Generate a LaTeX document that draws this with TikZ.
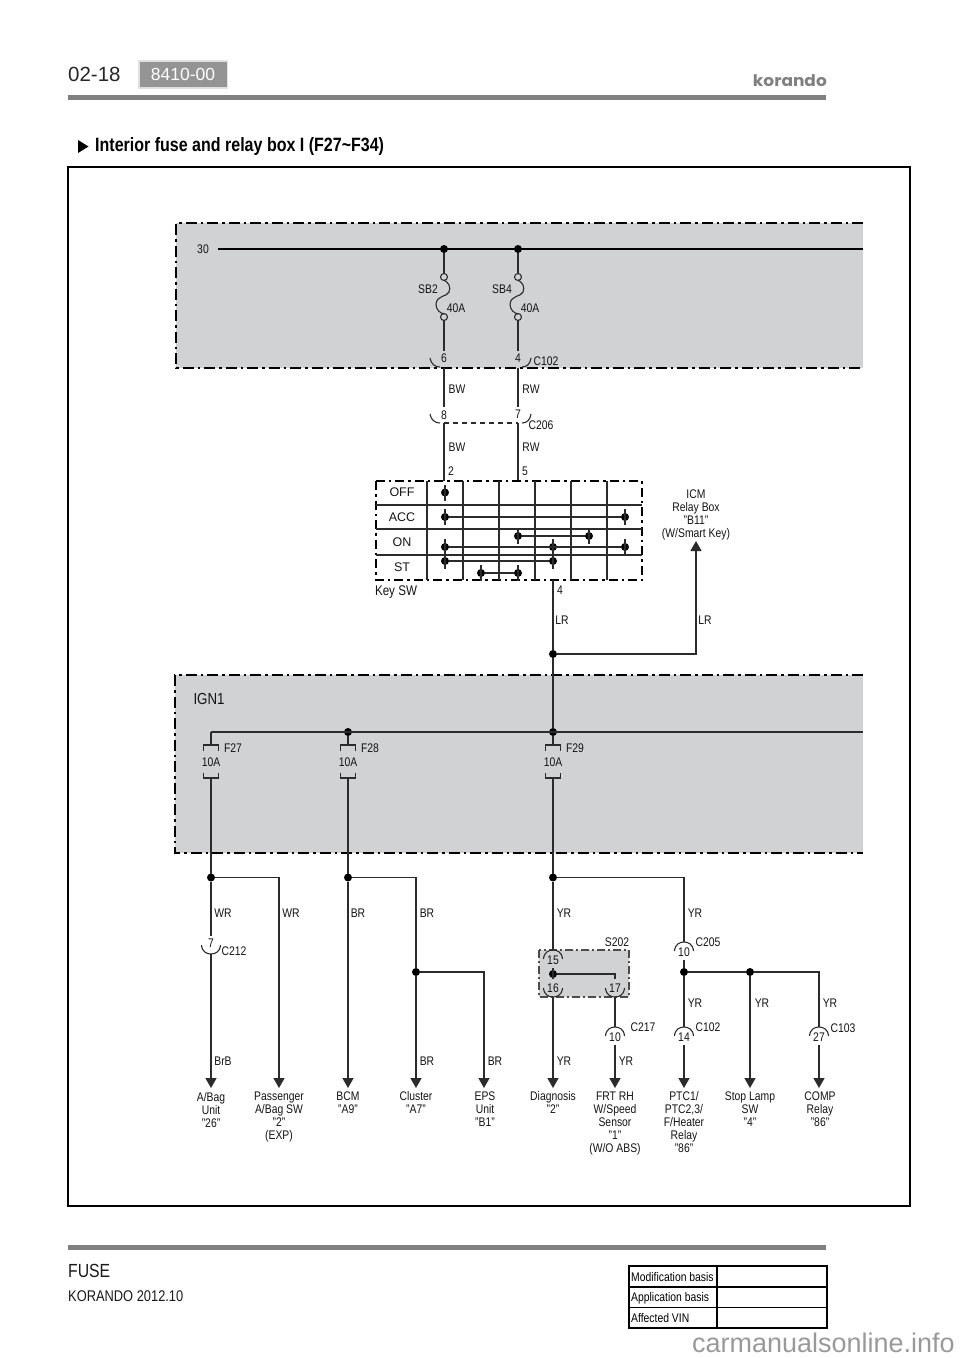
\documentclass[tikz,border=0pt]{standalone}
\usepackage{fontspec}
\setmainfont[FakeStretch=0.83]{Liberation Sans}
\newfontfamily\plainf{Liberation Sans}
\newfontfamily\logof[FakeStretch=1.06]{Poppins}
\usetikzlibrary{arrows.meta}
\definecolor{panel}{HTML}{D1D2D4}
\definecolor{wirec}{HTML}{2B2B2B}
\tikzset{
 lab/.style={inner sep=0pt,outer sep=0pt,text=black!92,font=\fontsize{12.5}{13}\selectfont,align=center},
 keylab/.style={inner sep=0pt,text=black!92,font=\plainf\fontsize{12.5}{13}\selectfont},
 wire/.style={draw=wirec,line width=1.5pt},
 thinw/.style={draw=wirec,line width=1.1pt},
 arrowwire/.style={wire,-{Triangle[length=10pt,width=11pt]}},
 dot/.style={circle,fill=black,inner sep=0pt,minimum size=8pt,outer sep=0pt},
 ring/.style={circle,draw=wirec,line width=1.1pt,inner sep=0pt,minimum size=7pt,outer sep=0pt},
 dashbox/.style={draw=black,line width=2.4pt,dash pattern=on 11pt off 4pt on 2.5pt off 4pt},
 keydash/.style={draw=black,line width=1.7pt,dash pattern=on 9pt off 4pt on 2.5pt off 4pt},
 upconn/.pic={\draw[thinw] (-9.5,9) .. controls (-9,2) and (-4,0) .. (0,0) .. controls (4,0) and (9,2) .. (9.5,9);},
 downconn/.pic={\draw[thinw] (-9.5,-9) .. controls (-9,-2) and (-4,0) .. (0,0) .. controls (4,0) and (9,-2) .. (9.5,-9);},
 leftconn/.pic={\draw[thinw] (-14,-9) .. controls (-13,-3) and (-9,0) .. (-4,0);},
 rightconn/.pic={\draw[thinw] (13,-9) .. controls (12,-3) and (9,0) .. (4,0);},
 fusepic/.pic={\draw[thinw] (-7.5,19) -- (-7.5,13) -- (7.5,13) -- (7.5,19) (-7.5,41) -- (-7.5,46) -- (7.5,46) -- (7.5,41);},
 slink/.pic={\draw[thinw] (0,3) .. controls (5,6) and (7,10) .. (5,15) .. controls (3,20) and (-7,18) .. (-8,27) .. controls (-8,33) and (-4,36) .. (0,37);},
}
\begin{document}
\begin{tikzpicture}[x=1pt,y=-1pt]
\useasboundingbox (0,0) rectangle (960,1358);
% header
\node[inner sep=0pt,anchor=west,text=black!85,font=\plainf\fontsize{20.5}{21}\selectfont] (pg) at (68,74) {02-18};
\fill[black!12] (138,60) rectangle (228,89);
\node[fill=black!42,minimum width=87pt,minimum height=25pt,inner sep=0pt,text=white,font=\plainf\fontsize{17.5}{18}\selectfont] (sec) at (183,74.5) {8410-00};
\node[inner sep=0pt,anchor=east,text=black!50,font=\logof\bfseries\fontsize{16}{17}\selectfont] (logo) at (827,81) {korando};
\fill[black!50] (68,95) rectangle (826,100);
\fill[black] (78,140) -- (88.5,146.5) -- (78,153) -- cycle;
\node[inner sep=0pt,anchor=west,font=\bfseries\fontsize{19.3}{20}\selectfont] (title) at (95,146.5) {Interior fuse and relay box I (F27\textasciitilde F34)};
% frame
\draw[black,line width=1.5pt] (68,167) rectangle (910,1206);
% panels
\fill[panel] (176,223) rectangle (863,368);
\draw[dashbox] (863,223) -- (176,223) -- (176,368) -- (863,368);
\fill[panel] (175,675) rectangle (863,853);
\draw[dashbox] (863,675) -- (175,675) -- (175,853) -- (863,853);
\fill[panel] (539,950) rectangle (629,997);
\draw[draw=black!70,line width=1.2pt,dash pattern=on 8pt off 3pt on 2pt off 3pt] (539,950) rectangle (629,997);
% bus 30
\node[lab] (l30) at (203,249) {30};
\coordinate (b0) at (218,249);
\coordinate (b1) at (863,249);
\node[dot] (d1) at (444,249) {};
\node[dot] (d2) at (518,249) {};
\draw[draw=black,line width=2.4pt] (b0) -- (b1);
% SB fuses
\node[ring] (r1) at (444,277) {};
\node[ring] (r2) at (444,317) {};
\node[ring] (r3) at (518,277) {};
\node[ring] (r4) at (518,317) {};
\path (444,277) pic {slink} (518,277) pic {slink};
\draw[wire] (d1) -- (r1);
\draw[wire] (d2) -- (r3);
\coordinate (c6t) at (444,351);
\coordinate (c4t) at (518,351);
\draw[wire] (r2) -- (c6t);
\draw[wire] (r4) -- (c4t);
\node[lab] (sb2) at (428,289) {SB2};
\node[lab] (sb4) at (502,289) {SB4};
\node[lab] (a1) at (456,308) {40A};
\node[lab] (a2) at (530,308) {40A};
\node[lab] (n6) at (444,358) {6};
\node[lab] (n4) at (518,358) {4};
\node[lab] (c102a) at (546,361) {C102};
\path (444,367) pic {leftconn} (518,367) pic {rightconn};
% C206
\coordinate (t1) at (444,368);
\coordinate (t2) at (518,368);
\coordinate (t3) at (444,407);
\coordinate (t4) at (518,407);
\draw[wire] (t1) -- (t3);
\draw[wire] (t2) -- (t4);
\node[lab] (bw1) at (457,389) {BW};
\node[lab] (rw1) at (531,389) {RW};
\node[lab] (n8) at (444,415) {8};
\node[lab] (n7) at (518,414) {7};
\path (444,423) pic {leftconn} (518,423) pic {rightconn};
\coordinate (e1) at (444,423);
\coordinate (e2) at (518,423);
\draw[thinw,dash pattern=on 5pt off 4pt] (e1) -- (e2);
\node[lab] (c206) at (541,425) {C206};
\node[lab] (bw2) at (457,447) {BW};
\node[lab] (rw2) at (531,447) {RW};
\node[lab] (n2) at (451,471) {2};
\node[lab] (n5) at (525,471) {5};
\coordinate (k2) at (444,481);
\coordinate (k5) at (518,481);
\draw[wire] (e1) -- (k2);
\draw[wire] (e2) -- (k5);
% Key switch
\draw[keydash] (376,481) rectangle (642,580);
\foreach \yy in {505,529,555}{\draw[wire] (376,\yy) -- (642,\yy);}
\foreach \xx in {427,463,499,535,571,607}{\draw[wire] (\xx,481) -- (\xx,580);}
\node[keylab] (koff) at (402,492) {OFF};
\node[keylab] (kacc) at (402,517) {ACC};
\node[keylab] (kon) at (402,542) {ON};
\node[keylab] (kst) at (402,567) {ST};
\node[lab,font=\fontsize{14}{15}\selectfont] (ksw) at (396,592) {Key SW};
\foreach \xx/\yy/\nm in {445/492.5/ka,445/517/kb,625/517/kc,518/536/kd,589/536/ke,445/547/kf,553/547/kg,625/547/kh,445/561/ki,553/561/kj,481/573/kk,518/573/kl}{
  \node[dot] (\nm) at (\xx,\yy) {};
  \draw[thinw] (\xx,\yy-8) -- (\xx,\yy+8);
}
\draw[wire] (kb) -- (kc);
\draw[wire] (kd) -- (ke);
\draw[wire] (kf) -- (kh);
\draw[wire] (ki) -- (kj);
\draw[wire] (kk) -- (kl);
% LR
\coordinate (k4) at (553,580);
\node[lab] (n4b) at (560,590) {4};
\node[lab] (lr1) at (562,620) {LR};
\node[lab] (lr2) at (705,620) {LR};
\node[dot] (d3) at (553,654) {};
\coordinate (icmc) at (696,654);
\coordinate (icmt) at (696,541);
\draw[wire] (k4) -- (d3);
\draw[arrowwire] (d3) -- (icmc) -- (icmt);
\node[lab] (icm) at (696,514.5) {ICM\\Relay Box\\"B11"\\(W/Smart Key)};
% IGN1
\node[lab,font=\fontsize{16}{17}\selectfont] (ign) at (209,699) {IGN1};
\coordinate (ib0) at (211,732);
\coordinate (ib1) at (863,732);
\node[dot] (d4) at (348,732) {};
\node[dot] (d5) at (553,732) {};
\draw[wire] (ib0) -- (ib1);
\draw[wire] (d3) -- (d5);
\path (211,732) pic {fusepic} (348,732) pic {fusepic} (553,732) pic {fusepic};
\coordinate (f1a) at (211,745);
\coordinate (f2a) at (348,745);
\coordinate (f3a) at (553,745);
\draw[wire] (ib0) -- (f1a);
\draw[wire] (d4) -- (f2a);
\draw[wire] (d5) -- (f3a);
\node[lab] (f27) at (233,748) {F27};
\node[lab] (f28) at (370,748) {F28};
\node[lab] (f29) at (575,748) {F29};
\node[lab] (a27) at (211,762) {10A};
\node[lab] (a28) at (348,762) {10A};
\node[lab] (a29) at (553,762) {10A};
\coordinate (f1b) at (211,778);
\coordinate (f2b) at (348,778);
\coordinate (f3b) at (553,778);
% branch F27
\node[dot] (j1) at (211,877.5) {};
\coordinate (j1c) at (279,877.5);
\coordinate (aPass) at (279,1088);
\coordinate (c212t) at (211,936);
\coordinate (c212b) at (211,954);
\coordinate (aBag) at (211,1088);
\draw[wire] (f1b) -- (j1);
\draw[wire] (j1) -- (c212t);
\draw[arrowwire] (c212b) -- (aBag);
\draw[arrowwire] (j1) -- (j1c) -- (aPass);
\path (211,954) pic {downconn};
\node[lab] (wr1) at (223,913) {WR};
\node[lab] (wr2) at (291,913) {WR};
\node[lab] (n7b) at (211,943) {7};
\node[lab] (c212) at (234,951) {C212};
\node[lab] (brb) at (223,1061) {BrB};
\node[lab,anchor=north] (tBag) at (211,1092) {A/Bag\\Unit\\"26"};
\node[lab,anchor=north] (tPass) at (279,1091.5) {Passenger\\A/Bag SW\\"2"\\(EXP)};
% branch F28
\node[dot] (j2) at (348,877.5) {};
\coordinate (j2c) at (416,877.5);
\node[dot] (j3) at (416,972) {};
\coordinate (j3c) at (484,972);
\coordinate (aBCM) at (348,1088);
\coordinate (aClu) at (416,1088);
\coordinate (aEPS) at (484,1088);
\draw[wire] (f2b) -- (j2);
\draw[arrowwire] (j2) -- (aBCM);
\draw[wire] (j2) -- (j2c) -- (j3);
\draw[arrowwire] (j3) -- (aClu);
\draw[arrowwire] (j3) -- (j3c) -- (aEPS);
\node[lab] (br1) at (358,913) {BR};
\node[lab] (br2) at (427,913) {BR};
\node[lab] (br3) at (427,1061) {BR};
\node[lab] (br4) at (495,1061) {BR};
\node[lab,anchor=north] (tBCM) at (348,1092) {BCM\\"A9"};
\node[lab,anchor=north] (tClu) at (416,1091.5) {Cluster\\"A7"};
\node[lab,anchor=north] (tEPS) at (485,1091.5) {EPS\\Unit\\"B1"};
% branch F29
\node[dot] (j4) at (553,877.5) {};
\coordinate (j4c) at (684,877.5);
\coordinate (s15) at (553,950);
\node[dot] (j5) at (553,974) {};
\coordinate (j5c) at (615,974);
\coordinate (s17) at (615,979);
\coordinate (s16) at (553,997);
\coordinate (s17b) at (615,997);
\coordinate (c217t) at (615,1027);
\coordinate (c217b) at (615,1045);
\coordinate (aDia) at (553,1088);
\coordinate (aFrt) at (615,1088);
\coordinate (c205t) at (684,942);
\draw[wire] (f3b) -- (j4);
\draw[wire] (j4) -- (s15);
\draw[wire] (j4) -- (j4c) -- (c205t);
\draw[wire] (j5) -- (j5c) -- (s17);
\draw[arrowwire] (s16) -- (aDia);
\draw[wire] (s17b) -- (c217t);
\draw[arrowwire] (c217b) -- (aFrt);
\path (553,950) pic {upconn} (553,997) pic {downconn} (615,997) pic {downconn} (615,1027) pic {upconn} (684,942) pic {upconn} (684,1027) pic {upconn} (819,1027) pic {upconn};
\coordinate (s15b) at (553,968);
\coordinate (s16t) at (553,979);
\draw[wire] (s15b) -- (s16t);
\node[lab] (s202) at (617,942) {S202};
\node[lab] (n15) at (553,960) {15};
\node[lab] (n16) at (553,988) {16};
\node[lab] (n17) at (615,988) {17};
\node[lab] (n10a) at (615,1037) {10};
\node[lab] (c217) at (643,1027) {C217};
\node[lab] (n10b) at (684,952) {10};
\node[lab] (c205) at (708,942) {C205};
\node[lab] (n14) at (684,1037) {14};
\node[lab] (c102b) at (708,1027) {C102};
\node[lab] (n27) at (819,1037) {27};
\node[lab] (c103) at (843,1028) {C103};
\node[lab] (yr1) at (564,913) {YR};
\node[lab] (yr2) at (695,913) {YR};
\node[lab] (yr3) at (564,1061) {YR};
\node[lab] (yr4) at (626,1061) {YR};
\node[lab] (yr5) at (695,1003) {YR};
\node[lab] (yr6) at (762,1003) {YR};
\node[lab] (yr7) at (830,1003) {YR};
% right group
\coordinate (c205b) at (684,960);
\node[dot] (j6) at (684,972) {};
\node[dot] (j7) at (750,972) {};
\coordinate (j8) at (819,972);
\coordinate (c102t) at (684,1027);
\coordinate (c102c) at (684,1045);
\coordinate (c103t) at (819,1027);
\coordinate (c103c) at (819,1045);
\coordinate (aPtc) at (684,1088);
\coordinate (aStop) at (750,1088);
\coordinate (aComp) at (819,1088);
\draw[wire] (c205b) -- (j6);
\draw[wire] (j6) -- (j7);
\draw[wire] (j7) -- (j8) -- (c103t);
\draw[wire] (j6) -- (c102t);
\draw[arrowwire] (c102c) -- (aPtc);
\draw[arrowwire] (j7) -- (aStop);
\draw[arrowwire] (c103c) -- (aComp);
\node[lab,anchor=north] (tDia) at (553,1091.5) {Diagnosis\\"2"};
\node[lab,anchor=north] (tFrt) at (615,1091.5) {FRT RH\\W/Speed\\Sensor\\"1"\\(W/O ABS)};
\node[lab,anchor=north] (tPtc) at (684,1091.5) {PTC1/\\PTC2,3/\\F/Heater\\Relay\\"86"};
\node[lab,anchor=north] (tStop) at (750,1091.5) {Stop Lamp\\SW\\"4"};
\node[lab,anchor=north] (tComp) at (820,1091.5) {COMP\\Relay\\"86"};
% footer
\fill[black!50] (68,1245) rectangle (826,1250);
\node[inner sep=0pt,anchor=west,text=black!90,font=\fontsize{19}{20}\selectfont] (fuse) at (68,1270.5) {FUSE};
\node[inner sep=0pt,anchor=west,text=black!90,font=\fontsize{15.5}{16}\selectfont] (kor) at (68,1296) {KORANDO 2012.10};
\draw[black,line width=1.2pt] (629,1266) rectangle (827,1328);
\draw[black,line width=1.2pt] (629,1287) -- (827,1287) (629,1307.5) -- (827,1307.5) (717,1266) -- (717,1328);
\node[inner sep=0pt,anchor=west,font=\fontsize{12.5}{13}\selectfont] (m1) at (631,1277) {Modification basis};
\node[inner sep=0pt,anchor=west,font=\fontsize{12.5}{13}\selectfont] (m2) at (631,1298) {Application basis};
\node[inner sep=0pt,anchor=west,font=\fontsize{12.5}{13}\selectfont] (m3) at (631,1318) {Affected VIN};
\node[inner sep=0pt,anchor=east,text=black!40,font=\plainf\fontsize{27}{28}\selectfont] (wm) at (955,1343) {carmanualsonline.info};
\end{tikzpicture}
\end{document}
